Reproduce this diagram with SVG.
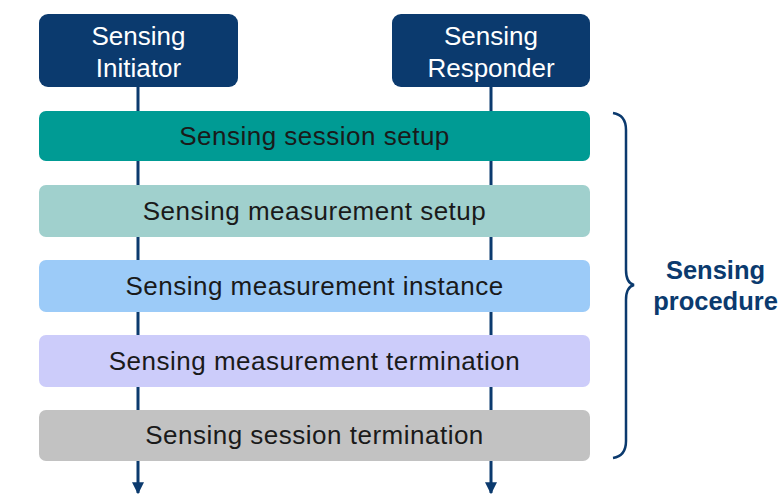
<svg xmlns="http://www.w3.org/2000/svg" width="780" height="496" viewBox="0 0 780 496">
<defs>
<style>
.hdr{fill:#0b3a6e}
.ht{font-family:"Liberation Sans",Arial,sans-serif;font-size:26px;fill:#ffffff;text-anchor:middle}
.bt{font-family:"Liberation Sans",Arial,sans-serif;font-size:26px;letter-spacing:0.5px;fill:#1a1a1a;text-anchor:middle}
.life{stroke:#0b3a6e;stroke-width:3;fill:none}
.lbl{font-family:"Liberation Sans",Arial,sans-serif;font-size:25.5px;font-weight:bold;fill:#0b3a6e;text-anchor:middle}
</style>
<marker id="arr" viewBox="0 0 10 10" refX="9" refY="5" markerWidth="4" markerHeight="4" markerUnits="strokeWidth" orient="auto">
<path d="M0,0 L10,5 L0,10 Z" fill="#0b3a6e"/>
</marker>
</defs>
<g id="connectors">
<line class="life" x1="138" y1="87" x2="138" y2="493" marker-end="url(#arr)"/>
<line class="life" x1="491" y1="87" x2="491" y2="493" marker-end="url(#arr)"/>
</g>
<g id="initiator">
<rect class="hdr" x="39" y="14" width="199" height="73" rx="9"/>
<text class="ht" x="138.5" y="45">Sensing</text>
<text class="ht" x="138.5" y="77">Initiator</text>
</g>
<g id="responder">
<rect class="hdr" x="392" y="14" width="198" height="73" rx="9"/>
<text class="ht" x="491" y="45">Sensing</text>
<text class="ht" x="491" y="77">Responder</text>
</g>
<g id="session-setup">
<rect x="39" y="111" width="551" height="50" rx="7" fill="#009b94"/>
<text class="bt" x="314.5" y="145">Sensing session setup</text>
</g>
<g id="measurement-setup">
<rect x="39" y="185" width="551" height="52" rx="7" fill="#a0d0cd"/>
<text class="bt" x="314.5" y="220">Sensing measurement setup</text>
</g>
<g id="measurement-instance">
<rect x="39" y="260" width="551" height="52" rx="7" fill="#9ccbf8"/>
<text class="bt" x="314.5" y="295">Sensing measurement instance</text>
</g>
<g id="measurement-termination">
<rect x="39" y="335" width="551" height="52" rx="7" fill="#ccccfa"/>
<text class="bt" x="314.5" y="370">Sensing measurement termination</text>
</g>
<g id="session-termination">
<rect x="39" y="410" width="551" height="51" rx="7" fill="#c2c2c2"/>
<text class="bt" x="314.5" y="444">Sensing session termination</text>
</g>
<g id="sensing-procedure">
<path d="M613,113 Q626,115 626,130 L626,270 Q626,283 634,285 Q626,287 626,300 L626,441 Q626,456 613,458" stroke="#0b3a6e" stroke-width="2.5" fill="none"/>
<text class="lbl" x="715.5" y="279">Sensing</text>
<text class="lbl" x="715.5" y="310">procedure</text>
</g>
</svg>
